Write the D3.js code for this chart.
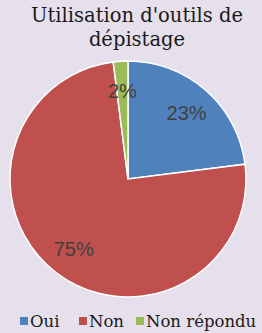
<!DOCTYPE html>
<html>
<head>
<meta charset="utf-8">
<script src="https://cdn.jsdelivr.net/npm/d3@7"></script>
<style>
  body { margin: 0; background: #e5e0ec; }
</style>
</head>
<body>
<script>
  const categories = ['Oui', 'Non', 'Non répondu'];
  const values = [23, 75, 2];
  const colors = ['#4f81bd', '#c0504d', '#9bbb59'];
  const titleLines = ["Utilisation d'outils de", 'dépistage'];

  const width = 262, height = 333;
  const cx = 128, cy = 179, radius = 118;

  const svg = d3.select('body').append('svg')
    .attr('width', width)
    .attr('height', height);

  svg.append('rect').attr('width', width).attr('height', height).attr('fill', '#e5e0ec');

  svg.selectAll('text.title').data(titleLines).enter()
    .append('text')
    .attr('class', 'title')
    .attr('x', 137)
    .attr('y', (d, i) => 22 + i * 24)
    .attr('text-anchor', 'middle')
    .attr('font-family', 'DejaVu Serif')
    .attr('font-size', 19.5)
    .attr('fill', '#1a1a1a')
    .text(d => d);

  const pie = d3.pie().sort(null).value(d => d);
  const arcs = pie(values);
  const arc = d3.arc().innerRadius(0).outerRadius(radius);
  const labelArc = d3.arc().innerRadius(radius * 0.75).outerRadius(radius * 0.75);

  const g = svg.append('g').attr('transform', `translate(${cx},${cy})`);

  g.selectAll('path').data(arcs).enter()
    .append('path')
    .attr('d', arc)
    .attr('fill', (d, i) => colors[i])
    .attr('stroke', '#ffffff')
    .attr('stroke-width', 1.5);

  g.selectAll('text').data(arcs).enter()
    .append('text')
    .attr('transform', d => `translate(${labelArc.centroid(d)})`)
    .attr('text-anchor', 'middle')
    .attr('dy', '0.35em')
    .attr('font-family', 'Liberation Sans')
    .attr('font-size', 20)
    .attr('fill', '#404040')
    .text(d => d.data + '%');

  const legendX = [20, 79, 136];
  const legend = svg.selectAll('g.leg').data(categories).enter()
    .append('g')
    .attr('class', 'leg')
    .attr('transform', (d, i) => `translate(${legendX[i]},327)`);
  legend.append('rect')
    .attr('x', 0).attr('y', -10)
    .attr('width', 8).attr('height', 8)
    .attr('fill', (d, i) => colors[i]);
  legend.append('text')
    .attr('x', 10)
    .attr('y', 0)
    .attr('font-family', 'DejaVu Serif')
    .attr('font-size', 16.5)
    .attr('fill', '#1a1a1a')
    .text(d => d);
</script>
</body>
</html>
